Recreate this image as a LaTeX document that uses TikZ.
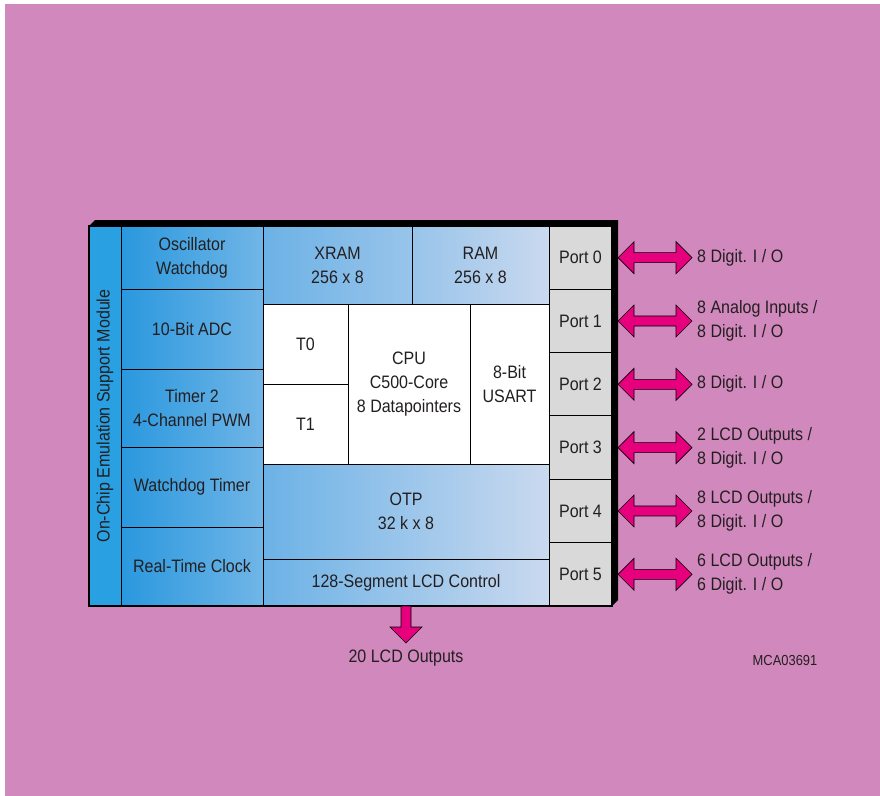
\documentclass[tikz,border=0pt]{standalone}
\usepackage{fontspec}
\setmainfont{Liberation Sans}[FakeStretch=0.89]
\usepackage{tikz}
\usetikzlibrary{positioning,calc}
\definecolor{bgPink}{RGB}{209,136,188}
\definecolor{emuBlue}{RGB}{41,160,226}
\definecolor{sideBlueL}{RGB}{42,152,222}
\definecolor{sideBlueR}{RGB}{112,181,231}
\definecolor{coreBlueL}{RGB}{108,178,230}
\definecolor{coreBlueM}{RGB}{152,196,234}
\definecolor{coreBlueR}{RGB}{202,217,239}
\definecolor{portGray}{RGB}{217,217,217}
\definecolor{busMagenta}{RGB}{230,0,126}
\definecolor{inkDark}{RGB}{35,31,32}
\newcommand{\blockfont}{\fontsize{18}{24}\selectfont}
\newcommand{\tagfont}{\fontsize{14.5}{17}\selectfont}
\newcommand{\iobus}[2]{%
  \coordinate (ba) at ($(#1.east)+(6,0)$);
  \coordinate (bb) at ($(ba -| #2.west)+(-5,0)$);
  \draw[bus arrow] (ba) -- ++(16,16) -- ++(0,-11) -- ($(bb)+(-16,5)$) -- ++(0,11) -- (bb) -- ++(-16,-16) -- ++(0,11) -- ($(ba)+(16,-5)$) -- ++(0,-11) -- cycle;}
\tikzset{
  cell/.style={draw=black,line width=1pt,inner sep=0pt,outer sep=0pt,anchor=north west,align=center,text=inkDark,font=\blockfont},
  side cell/.style={cell,left color=sideBlueL,right color=sideBlueR,minimum width=142},
  core cell/.style={cell,fill=white},
  port cell/.style={cell,fill=portGray,minimum width=63,minimum height=63.33},
  io label/.style={inner sep=0pt,anchor=west,align=left,text=inkDark,font=\blockfont},
  bus arrow/.style={fill=busMagenta,draw=black,line width=0.6pt,line join=miter}
}
\begin{document}
\begin{tikzpicture}[x=1pt,y=-1pt]
  \useasboundingbox (0,0) rectangle (880,795);
  \fill[white] (-10,-10) rectangle (890,805);
  \fill[bgPink] (5,4) rectangle (890,805);
  \fill[black] (89,226) -- (95,220) -- (618,220) -- (618,600) -- (612,606) -- cycle;
  \node[cell,fill=emuBlue,minimum width=380,minimum height=32,rotate=90,anchor=center] (emulation) at (105,416) {On-Chip Emulation Support Module};
  \node[side cell,minimum height=63] (oscillator) at (121,226) {Oscillator\\Watchdog};
  \node[side cell,minimum height=80,below=0pt of oscillator] (adc) {10-Bit ADC};
  \node[side cell,minimum height=78,below=0pt of adc] (timer) {Timer 2\\4-Channel PWM};
  \node[side cell,minimum height=80,below=0pt of timer] (watchdog) {Watchdog Timer};
  \node[side cell,minimum height=79,below=0pt of watchdog] (rtc) {Real-Time Clock};
  \node[cell,left color=coreBlueL,right color=coreBlueM,minimum width=149,minimum height=78] (xram) at (263,226) {XRAM\\256 x 8};
  \node[cell,left color=coreBlueM,right color=coreBlueR,minimum width=137,minimum height=78,right=0pt of xram] (ram) {RAM\\256 x 8};
  \node[core cell,minimum width=85,minimum height=80] (tzero) at (263,304) {T0};
  \node[core cell,minimum width=85,minimum height=80,below=0pt of tzero] (tone) {T1};
  \node[core cell,minimum width=122,minimum height=160] (cpu) at (348,304) {CPU\\C500-Core\\8 Datapointers};
  \node[core cell,minimum width=79,minimum height=160,right=0pt of cpu] (usart) {8-Bit\\USART};
  \node[cell,left color=coreBlueL,right color=coreBlueR,minimum width=286,minimum height=95] (otp) at (263,464) {OTP\\32 k x 8};
  \node[cell,left color=coreBlueL,right color=coreBlueR,minimum width=286,minimum height=47,below=0pt of otp] (lcd) {128-Segment LCD Control};
  \foreach \i in {0,...,5}
    \node[port cell] (p\i) at (549,{226+63.33*\i}) {Port \i};
  \draw[line width=1.4pt] (89,226) rectangle (612,606);
  \node[io label,right=85pt of p0] (l0) {8 Digit. I / O};
  \node[io label,right=85pt of p1] (l1) {8 Analog Inputs /\\8 Digit. I / O};
  \node[io label,right=85pt of p2] (l2) {8 Digit. I / O};
  \node[io label,right=85pt of p3] (l3) {2 LCD Outputs /\\8 Digit. I / O};
  \node[io label,right=85pt of p4] (l4) {8 LCD Outputs /\\8 Digit. I / O};
  \node[io label,right=85pt of p5] (l5) {6 LCD Outputs /\\6 Digit. I / O};
  \foreach \i in {0,...,5}
    \iobus{p\i}{l\i};
  \node[io label,below=44pt of lcd] (lcdout) {20 LCD Outputs};
  \draw[bus arrow] ($(lcd.south)+(-5,0)$) -- ++(0,21) -- ++(-11,0) -- ++(16,16) -- ++(16,-16) -- ++(-11,0) -- ++(0,-21) -- cycle;
  \node[font=\tagfont,text=inkDark] (drawingno) at (785,660) {MCA03691};
\end{tikzpicture}
\end{document}
